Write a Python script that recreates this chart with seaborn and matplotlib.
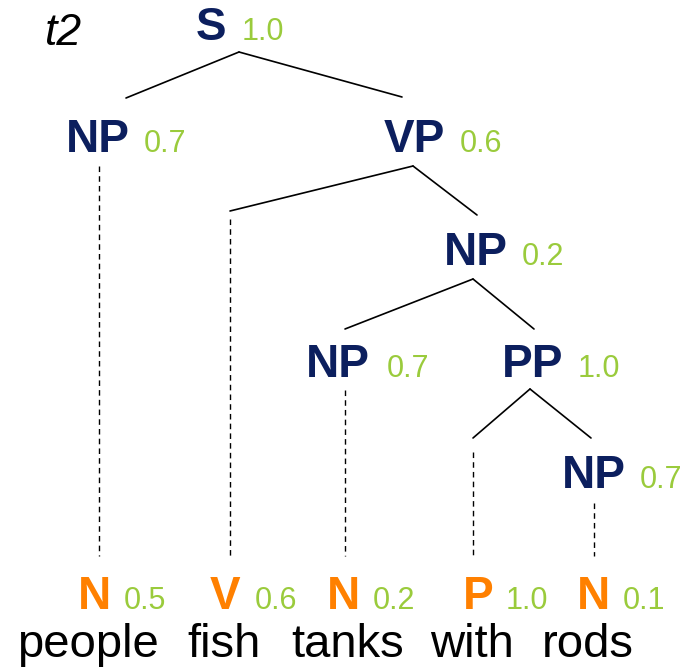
import matplotlib
matplotlib.use("Agg")
import matplotlib.pyplot as plt
import numpy as np
import pandas as pd
import seaborn as sns

# tree content
tree_name = "t2"
phrase_tags = ["S", "NP", "VP", "NP", "NP", "PP", "NP"]
phrase_probs = [1.0, 0.7, 0.6, 0.2, 0.7, 1.0, 0.7]
pos_tags = ["N", "V", "N", "P", "N"]
pos_probs = [0.5, 0.6, 0.2, 1.0, 0.1]
words = ["people", "fish", "tanks", "with", "rods"]

# layout (pixels, y downwards)
phrase_x = [196, 66, 384, 444, 306, 502, 562]
phrase_y = [40, 152, 152, 265, 377, 377, 488]
phrase_prob_x = [242, 144, 460, 522, 387, 578, 640]
pos_x = [78, 210, 327, 463, 577]
pos_prob_x = [124, 255, 373, 506, 623]
pos_y = 609
word_x = [88, 224, 348, 472, 588]
word_y = 657

# solid branches: apex -> child ends
branch_apex = [(239, 52), (413, 166), (473, 279), (530, 389)]
branch_ends = [[(126, 98), (402, 97)],
               [(230, 211), (477, 215)],
               [(345, 329), (534, 329)],
               [(473, 438), (591, 438)]]
# dotted unary links: (x, top, bottom)
dotted_x = [99, 230, 345, 473, 594]
dotted_top = [166, 219, 390, 452, 503]
dotted_bottom = 556

NAVY = "#0c1f5e"
GREEN = "#9acb3c"
ORANGE = "#ff8000"

sns.set_style("white")
plt.rcParams["font.family"] = ["Liberation Sans", "DejaVu Sans"]

fig = plt.figure(figsize=(6.95, 6.67), dpi=100)
ax = fig.add_axes([0, 0, 1, 1])

rows = []
k = 0
for apex, ends in zip(branch_apex, branch_ends):
    for end in ends:
        rows.append({"edge": k, "order": 0, "x": apex[0], "y": apex[1]})
        rows.append({"edge": k, "order": 1, "x": end[0], "y": end[1]})
        k += 1
edges = pd.DataFrame(rows)
sns.lineplot(data=edges, x="x", y="y", units="edge", estimator=None, sort=False,
             color="black", linewidth=1.2, ax=ax)

for x, top in zip(dotted_x, dotted_top):
    ax.plot([x, x], [top, dotted_bottom], color="black", linewidth=1.0,
            linestyle=(0, (4, 3)))

tag_size = 33
prob_size = 22
ax.text(45, 45, tree_name, fontsize=32, style="italic", color="black",
        ha="left", va="baseline")

for tag, p, x, y, px in zip(phrase_tags, phrase_probs, phrase_x, phrase_y, phrase_prob_x):
    ax.text(x, y, tag, fontsize=tag_size, fontweight="bold", color=NAVY,
            ha="left", va="baseline")
    ax.text(px, y, f"{p:.1f}", fontsize=prob_size, color=GREEN,
            ha="left", va="baseline")

for tag, p, x, px in zip(pos_tags, pos_probs, pos_x, pos_prob_x):
    ax.text(x, pos_y, tag, fontsize=tag_size, fontweight="bold", color=ORANGE,
            ha="left", va="baseline")
    ax.text(px, pos_y, f"{p:.1f}", fontsize=prob_size, color=GREEN,
            ha="left", va="baseline")

for w, x in zip(words, word_x):
    ax.text(x, word_y, w, fontsize=34, color="black", ha="center", va="baseline")

ax.set_xlim(0, 695)
ax.set_ylim(667, 0)
ax.axis("off")

fig.savefig("out.png", dpi=100)
